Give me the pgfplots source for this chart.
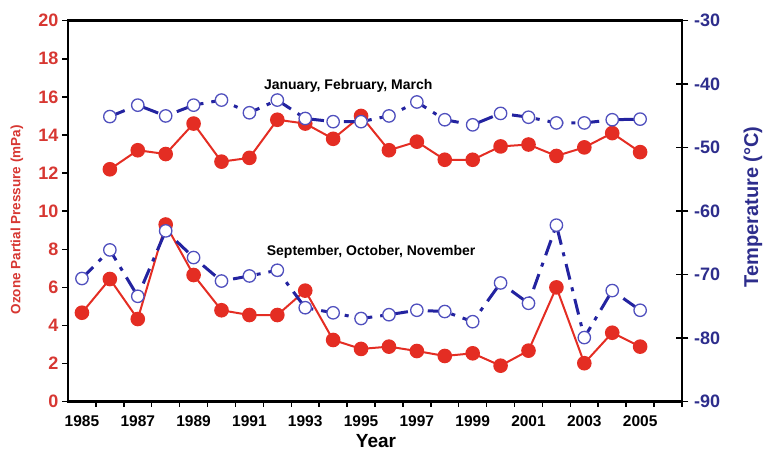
\documentclass[border=0pt]{standalone}
\usepackage{pgfplots}
\pgfplotsset{compat=1.18}
\usepackage{pgfplotstable}
\usepackage{fontspec}
\setmainfont{Liberation Sans}
\definecolor{ozred}{RGB}{228,45,35}
\definecolor{labred}{RGB}{215,55,50}
\definecolor{tblue}{RGB}{35,35,160}
\definecolor{cblue}{RGB}{80,80,190}
\definecolor{labblue}{RGB}{45,45,140}

\pgfplotstableread{
year oz
1986 12.2
1987 13.2
1988 13.0
1989 14.6
1990 12.6
1991 12.8
1992 14.8
1993 14.6
1994 13.8
1995 15.0
1996 13.2
1997 13.65
1998 12.7
1999 12.7
2000 13.4
2001 13.5
2002 12.9
2003 13.35
2004 14.1
2005 13.1
}\jfmoz

\pgfplotstableread{
year T
1986 -45.1
1987 -43.3
1988 -45.0
1989 -43.3
1990 -42.5
1991 -44.5
1992 -42.5
1993 -45.4
1994 -45.9
1995 -45.9
1996 -45.0
1997 -42.8
1998 -45.6
1999 -46.4
2000 -44.6
2001 -45.2
2002 -46.1
2003 -46.1
2004 -45.6
2005 -45.5
}\jfmT

\pgfplotstableread{
year oz
1985 4.67
1986 6.44
1987 4.34
1988 9.3
1989 6.65
1990 4.8
1991 4.55
1992 4.55
1993 5.83
1994 3.24
1995 2.77
1996 2.89
1997 2.66
1998 2.4
1999 2.54
2000 1.89
2001 2.68
2002 6.0
2003 2.02
2004 3.62
2005 2.89
}\sonoz

\pgfplotstableread{
year T
1985 -70.6
1986 -66.1
1987 -73.4
1988 -63.1
1989 -67.3
1990 -71.0
1991 -70.2
1992 -69.3
1993 -75.2
1994 -76.0
1995 -76.9
1996 -76.3
1997 -75.6
1998 -75.8
1999 -77.4
2000 -71.3
2001 -74.5
2002 -62.2
2003 -79.9
2004 -72.5
2005 -75.6
}\sonT

\begin{document}
\begin{tikzpicture}
\useasboundingbox (-68pt,-50.3pt) rectangle (696pt,401.7pt);
% ozone axis (left)
\begin{axis}[
  scale only axis, width=614pt, height=381pt,
  at={(0pt,0pt)}, anchor=south west,
  xmin=1984.5, xmax=2006.5, ymin=0, ymax=20,
  axis line style={line width=2.5pt, black},
  xtick={1985,1987,...,2005},
  xticklabels={1985,1987,1989,1991,1993,1995,1997,1999,2001,2003,2005},
  xtick style={draw=none},
  xtick pos=bottom, ytick pos=left,
  ytick={0,2,...,20},
  yticklabels={0,2,4,6,8,10,12,14,16,18,20},
  tick align=outside, major tick length=6pt,
  ytick style={line width=1.5pt, black},
  x tick label style={font=\fontsize{15.5}{15.5}\selectfont\bfseries, black, yshift=-4pt},
  y tick label style={font=\fontsize{18}{18}\selectfont\bfseries, labred},
  xlabel={Year},
  xlabel style={at={(rel axis cs:0.5016,0)}, anchor=center, yshift=-39.5pt, font=\fontsize{19}{19}\selectfont\bfseries},
  ylabel={\bfseries Ozone Partial Pressure (mPa)},
  ylabel style={at={(rel axis cs:0,0.477)}, anchor=center, yshift=51pt, font=\fontsize{13.5}{13.5}\selectfont\bfseries, labred},
  clip=false,
]
\addplot[ozred, line width=2pt, mark=*, mark size=6.3pt, mark options={fill=ozred, draw=ozred, solid}] table[x=year, y=oz] {\jfmoz};
\addplot[ozred, line width=2pt, mark=*, mark size=6.3pt, mark options={fill=ozred, draw=ozred, solid}] table[x=year, y=oz] {\sonoz};
\node[font=\fontsize{14}{14}\selectfont\bfseries, black] at (axis cs:1994.54,16.57) {January, February, March};
\node[font=\fontsize{14}{14}\selectfont\bfseries, black] at (axis cs:1995.36,7.86) {September, October, November};
\end{axis}
% x minor ticks at year boundaries
\begin{axis}[
  scale only axis, width=614pt, height=381pt,
  at={(0pt,0pt)}, anchor=south west,
  xmin=1984.5, xmax=2006.5, ymin=0, ymax=1,
  axis y line=none, axis x line*=bottom,
  x axis line style={-, line width=2.5pt, black},
  xtick={1985.5,1986.5,...,2006.5},
  xticklabels={},
  tick align=outside, major tick length=5pt,
  xtick style={line width=1.5pt, black},
]
\end{axis}
% temperature axis (right)
\begin{axis}[
  scale only axis, width=614pt, height=381pt,
  at={(0pt,0pt)}, anchor=south west,
  xmin=1984.5, xmax=2006.5, ymin=-90, ymax=-30,
  axis x line=none, axis y line*=right,
  y axis line style={-, line width=2.5pt, black},
  ytick={-90,-80,...,-30},
  yticklabels={{-90},{-80},{-70},{-60},{-50},{-40},{-30}},
  tick align=center, major tick length=13pt,
  ytick style={line width=1.5pt, black},
  y tick label style={font=\fontsize{18}{18}\selectfont\bfseries, labblue, xshift=2pt},
  ylabel={\bfseries Temperature (°C)},
  ylabel style={at={(rel axis cs:1,0.511)}, anchor=center, yshift=-71pt, font=\fontsize{20}{20}\selectfont\bfseries, labblue},
  clip=false,
]
\addplot[tblue, line width=3pt, dash pattern=on 16pt off 8pt on 4pt off 8pt, mark=*, mark size=6.2pt, mark options={fill=white, draw=cblue, line width=1.3pt, solid}] table[x=year, y=T] {\jfmT};
\addplot[tblue, line width=3pt, dash pattern=on 16pt off 8pt on 4pt off 8pt, mark=*, mark size=6.2pt, mark options={fill=white, draw=cblue, line width=1.3pt, solid}] table[x=year, y=T] {\sonT};
\end{axis}
\end{tikzpicture}
\end{document}
